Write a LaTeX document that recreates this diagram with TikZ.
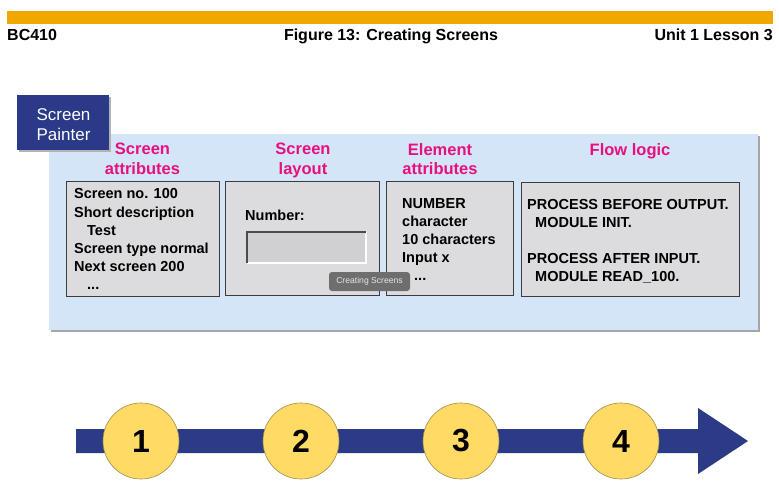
\documentclass[tikz,border=0pt]{standalone}
\usepackage{fontspec}
\setmainfont{Liberation Sans}
\definecolor{orangebar}{RGB}{240,168,0}
\definecolor{panelblue}{RGB}{212,229,248}
\definecolor{boxfill}{RGB}{220,220,222}
\definecolor{boxborder}{RGB}{60,60,64}
\definecolor{spblue}{RGB}{42,58,136}
\definecolor{magentahd}{RGB}{232,16,126}
\definecolor{arrowblue}{RGB}{43,59,133}
\definecolor{circyellow}{RGB}{255,218,100}
\definecolor{circborder}{RGB}{160,140,80}
\definecolor{tipgray}{RGB}{110,110,110}
\definecolor{fieldfill}{RGB}{208,208,210}
\begin{document}
\begin{tikzpicture}[x=1pt,y=-1pt,
  hdr/.style={font=\fontsize{16}{18}\selectfont\bfseries, inner sep=0pt},
  heading/.style={font=\fontsize{16.5}{19.5}\selectfont\bfseries, text=magentahd, align=center, inner sep=0pt, anchor=north},
  graybox/.style={draw=boxborder, fill=boxfill, line width=1pt, anchor=north west, inner sep=0pt},
  boxtext/.style={font=\fontsize{14.5}{18.2}\selectfont\bfseries, align=left, inner sep=0pt, anchor=north west},
  circ/.style={circle, minimum size=76pt, inner sep=0pt, fill=circyellow, draw=circborder, line width=0.6pt, font=\bfseries\fontsize{32}{32}\selectfont}
]
\useasboundingbox (0,0) rectangle (779,492);
\fill[white] (0,0) rectangle (779,492);
% header
\fill[orangebar] (7,11.5) rectangle (773,24);
\node[hdr, anchor=base west] (course) at (7,40.5) {BC410};
\node[hdr, anchor=base] (title) at (391,40.5) {Figure 13: Creating Screens};
\node[hdr, anchor=base east] (unit) at (773,40.5) {Unit 1 Lesson 3};
% panel
\fill[black!35] (51,136) rectangle (760,332);
\fill[panelblue] (49,134) rectangle (758,330);
% screen painter tab
\fill[black!30] (19,97) rectangle (111,152);
\node[fill=spblue, minimum width=92pt, minimum height=55pt, inner sep=0pt, anchor=north west, text=white, align=center, font=\fontsize{17}{20}\selectfont] (sp) at (17,95) {};
\node[text=white, align=center, font=\fontsize{17}{20}\selectfont, inner sep=0pt, anchor=north] (sptext) at (63.5,108) {Screen\\Painter};
% headings
\node[heading] (h1) at (142.5,143) {Screen\\attributes};
\node[heading] (h2) at (303,143) {Screen\\layout};
\node[heading] (h3) at (440,143) {Element\\attributes};
\node[heading] (h4) at (630,143) {Flow logic};
% boxes
\node[graybox, minimum width=153pt, minimum height=115pt] (b1) at (66,181) {};
\node[graybox, minimum width=154pt, minimum height=114pt] (b2) at (225,181) {};
\node[graybox, minimum width=127pt, minimum height=114pt] (b3) at (386,181) {};
\node[graybox, minimum width=218pt, minimum height=114pt] (b4) at (521,182) {};
% box texts
\node[boxtext] (t1) at (74,188.5) {Screen no. 100\\Short description\\\hspace{13pt}Test\\Screen type normal\\Next screen 200\\\hspace{13pt}...};
\node[boxtext] (t2) at (245,209.5) {Number:};
\node[boxtext] (t3) at (402,198) {NUMBER\\character\\10 characters\\Input x\\\hspace{12pt}...};
\node[boxtext] (t4) at (527,199) {PROCESS BEFORE OUTPUT.\\\hspace{8pt}MODULE INIT.\\[18pt]PROCESS AFTER INPUT.\\\hspace{8pt}MODULE READ\_100.};
% input field
\fill[fieldfill] (247,232) rectangle (366,263);
\draw[white, line width=1.5pt] (247,263) -- (366,263) -- (366,232);
\draw[black!70, line width=1.5pt] (247,263) -- (247,232) -- (366,232);
% tooltip
\node[fill=tipgray, rounded corners=3pt, text=white!90!black, font=\fontsize{8.6}{10}\selectfont, minimum width=81pt, minimum height=19pt, inner sep=0pt] (tip) at (369.5,281.5) {Creating Screens};
% bottom arrow
\fill[arrowblue] (76,429) -- (698,429) -- (698,408) -- (748,441) -- (698,474) -- (698,453) -- (76,453) -- cycle;
\node[circ] (c1) at (141,441) {1};
\node[circ] (c2) at (301,441) {2};
\node[circ] (c3) at (461,441) {3};
\node[circ] (c4) at (621,441) {4};
\end{tikzpicture}
\end{document}
